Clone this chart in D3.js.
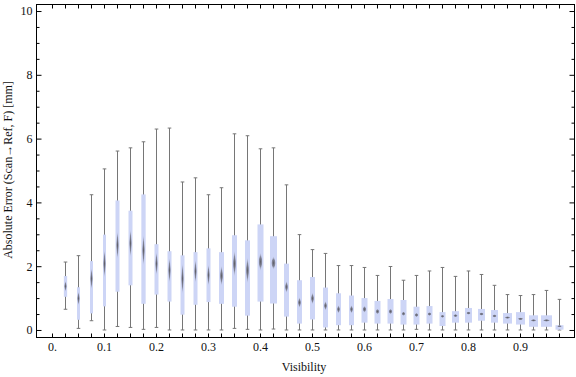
<!DOCTYPE html>
<html>
<head>
<meta charset="utf-8">
<script src="https://cdn.jsdelivr.net/npm/d3@7"></script>
<style>
    body { margin: 0; background: #fff; }
    svg text { font-family: "Liberation Serif", "DejaVu Serif", serif; fill: #111; }
</style>
</head>
<body>
<div id="chart"></div>
<script>
// ===========================
// Box-whisker chart
// Absolute error vs visibility
// ===========================

const visibility = [0.025, 0.05, 0.075, 0.1, 0.125, 0.15, 0.175, 0.2, 0.225, 0.25,
    0.275, 0.3, 0.325, 0.35, 0.375, 0.4, 0.425, 0.45, 0.475, 0.5,
    0.525, 0.55, 0.575, 0.6, 0.625, 0.65, 0.675, 0.7, 0.725, 0.75,
    0.775, 0.8, 0.825, 0.85, 0.875, 0.9, 0.925, 0.95, 0.975];

const whiskerLow = [0.65, 0.05, 0.29, 0.0, 0.11, 0.08, 0.02, 0.08, 0.0, 0.0,
    0.0, 0.0, 0.0, 0.05, 0.02, 0.0, 0.03, 0.0, 0.0, 0.0,
    0.0, 0.0, 0.0, 0.0, 0.0, 0.0, 0.0, 0.02, 0.0, 0.0,
    0.0, 0.0, 0.0, 0.0, 0.0, 0.0, 0.0, 0.0, 0.0];

const q1 = [1.04, 0.32, 0.52, 0.74, 1.2, 1.4, 0.82, 1.11, 0.89, 0.48,
    0.79, 0.875, 0.82, 0.73, 0.45, 0.89, 0.83, 0.42, 0.2, 0.33,
    0.08, 0.15, 0.15, 0.23, 0.2, 0.2, 0.17, 0.17, 0.2, 0.125,
    0.23, 0.23, 0.29, 0.23, 0.2, 0.17, 0.1, 0.1, 0.01];

const median = [1.37, 0.99, 1.61, 2.08, 2.66, 2.72, 2.5, 2.08, 1.87, 1.61,
    1.84, 1.72, 1.7, 2.08, 1.87, 2.14, 2.1, 1.35, 0.86, 0.99,
    0.76, 0.65, 0.65, 0.65, 0.58, 0.58, 0.51, 0.47, 0.5, 0.43,
    0.45, 0.53, 0.5, 0.44, 0.39, 0.35, 0.3, 0.3, 0.12];

const q3 = [1.69, 1.34, 2.16, 2.99, 4.06, 3.74, 4.25, 2.69, 2.47, 2.34,
    2.44, 2.56, 2.44, 2.97, 2.81, 3.31, 2.94, 2.08, 1.56, 1.66,
    1.33, 1.15, 1.08, 1.0, 0.91, 0.97, 0.94, 0.73, 0.75, 0.56,
    0.59, 0.69, 0.66, 0.625, 0.53, 0.56, 0.46, 0.46, 0.15];

const whiskerHigh = [2.13, 2.33, 4.24, 5.05, 5.61, 5.71, 5.9, 6.3, 6.33, 4.64,
    4.77, 4.24, 4.46, 6.15, 6.09, 5.68, 5.71, 4.55, 2.99, 2.52,
    2.4, 2.02, 2.02, 1.96, 1.71, 1.99, 1.56, 1.71, 1.85, 1.96,
    1.68, 1.85, 1.74, 1.4, 1.11, 1.08, 1.11, 1.24, 0.96];

// half-height of the median notch (mm)
const medianCI = [0.18, 0.23, 0.36, 0.47, 0.47, 0.47, 0.52, 0.39, 0.42, 0.52,
    0.39, 0.36, 0.34, 0.44, 0.44, 0.31, 0.23, 0.2, 0.18, 0.2,
    0.16, 0.14, 0.14, 0.12, 0.1, 0.1, 0.08, 0.08, 0.07, 0.06,
    0.06, 0.06, 0.06, 0.06, 0.05, 0.05, 0.05, 0.05, 0.04];

// relative sample weight (drives box width)
const boxWeight = [0.33, 0.3, 0.3, 0.3, 0.4, 0.4, 0.43, 0.4, 0.4, 0.4,
    0.4, 0.4, 0.5, 0.5, 0.5, 0.6, 0.7, 0.5, 0.5, 0.5,
    0.5, 0.5, 0.5, 0.6, 0.6, 0.6, 0.6, 0.6, 0.6, 0.6,
    0.7, 0.7, 0.7, 0.7, 0.9, 0.9, 0.9, 1.1, 0.8];

const xTickValues = [0, 0.025, 0.05, 0.075, 0.1, 0.125, 0.15, 0.175, 0.2, 0.225,
    0.25, 0.275, 0.3, 0.325, 0.35, 0.375, 0.4, 0.425, 0.45, 0.475,
    0.5, 0.525, 0.55, 0.575, 0.6, 0.625, 0.65, 0.675, 0.7, 0.725,
    0.75, 0.775, 0.8, 0.825, 0.85, 0.875, 0.9, 0.925, 0.95, 0.975];
const xLabelValues = [0, 0.1, 0.2, 0.3, 0.4, 0.5, 0.6, 0.7, 0.8, 0.9];
const yMajorTicks = [0, 2, 4, 6, 8, 10];
const yMinorTicks = [0.5, 1, 1.5, 2.5, 3, 3.5, 4.5, 5, 5.5, 6.5, 7, 7.5, 8.5, 9, 9.5];

const width = 576, height = 377;
const margin = { top: 4, right: 1, bottom: 40, left: 36 };

const data = visibility.map((v, i) => ({
    v,
    lo: whiskerLow[i], q1: q1[i], med: median[i], q3: q3[i], hi: whiskerHigh[i],
    ci: medianCI[i], w: boxWeight[i]
}));

const svg = d3.select('#chart').append('svg')
    .attr('width', width)
    .attr('height', height);

const x = d3.scaleLinear()
    .domain([-0.0308, 1.0058])
    .range([margin.left, width - margin.right]);

const y = d3.scaleLinear()
    .domain([-0.22, 10.22])
    .range([height - margin.bottom, margin.top]);

const widthScale = d3.scaleLinear().domain([0, 1]).range([0, 10]);

const defs = svg.append('defs');
const grad = defs.append('radialGradient').attr('id', 'notch');
grad.append('stop').attr('offset', '0%').attr('stop-color', '#5f5f68').attr('stop-opacity', 1);
grad.append('stop').attr('offset', '50%').attr('stop-color', '#7d7f90').attr('stop-opacity', 0.9);
grad.append('stop').attr('offset', '100%').attr('stop-color', '#cdd5f6').attr('stop-opacity', 0);

const boxColor = '#cdd5f6';
const whiskerColor = '#767676';

const g = svg.append('g');

// whiskers
g.selectAll('.whisker')
    .data(data)
    .join('line')
    .attr('class', 'whisker')
    .attr('x1', d => Math.round(x(d.v)) + 0.5)
    .attr('x2', d => Math.round(x(d.v)) + 0.5)
    .attr('y1', d => y(d.lo))
    .attr('y2', d => y(d.hi))
    .attr('stroke', whiskerColor)
    .attr('stroke-width', 1);

['lo', 'hi'].forEach(key => {
    g.selectAll('.cap-' + key)
        .data(data)
        .join('line')
        .attr('class', 'cap-' + key)
        .attr('x1', d => Math.round(x(d.v)) + 0.5 - 1.8)
        .attr('x2', d => Math.round(x(d.v)) + 0.5 + 1.8)
        .attr('y1', d => y(d[key]))
        .attr('y2', d => y(d[key]))
        .attr('stroke', whiskerColor)
        .attr('stroke-width', 1);
});

// boxes
g.selectAll('.box')
    .data(data)
    .join('rect')
    .attr('class', 'box')
    .attr('x', d => Math.round(x(d.v)) + 0.5 - widthScale(d.w) / 2)
    .attr('width', d => widthScale(d.w))
    .attr('y', d => y(d.q3))
    .attr('height', d => y(d.q1) - y(d.q3))
    .attr('fill', boxColor);

// median notch markers
g.selectAll('.notch')
    .data(data)
    .join('polygon')
    .attr('class', 'notch')
    .attr('points', d => {
        const cx = Math.round(x(d.v)) + 0.5;
        const hw = Math.max(1.6, widthScale(d.w) * 0.38);
        const top = y(d.med + d.ci), bot = y(d.med - d.ci), mid = y(d.med);
        return [[cx, top], [cx + hw, mid], [cx, bot], [cx - hw, mid]].join(' ');
    })
    .attr('fill', 'url(#notch)');

// frame
const frame = svg.append('g');
frame.append('rect')
    .attr('x', margin.left + 0.5)
    .attr('y', margin.top + 0.5)
    .attr('width', width - margin.right - margin.left - 1)
    .attr('height', height - margin.bottom - margin.top)
    .attr('fill', 'none')
    .attr('stroke', '#000')
    .attr('stroke-width', 1);

// left axis
svg.append('g')
    .attr('transform', `translate(${margin.left + 0.5},0)`)
    .call(d3.axisLeft(y).tickValues(yMajorTicks).tickSize(-5).tickPadding(4).tickFormat(d3.format('d')));
svg.append('g')
    .attr('transform', `translate(${margin.left + 0.5},0)`)
    .call(d3.axisLeft(y).tickValues(yMinorTicks).tickSize(-3).tickFormat(''));

// right axis
svg.append('g')
    .attr('transform', `translate(${width - margin.right - 0.5},0)`)
    .call(d3.axisRight(y).tickValues(yMajorTicks).tickSize(-5).tickFormat(''));
svg.append('g')
    .attr('transform', `translate(${width - margin.right - 0.5},0)`)
    .call(d3.axisRight(y).tickValues(yMinorTicks).tickSize(-3).tickFormat(''));

// bottom axis
const fmtX = d => d === 0 ? '0.' : (xLabelValues.some(v => Math.abs(v - d) < 1e-9) ? d3.format('.1f')(d) : '');
svg.append('g')
    .attr('transform', `translate(0,${height - margin.bottom + 0.5})`)
    .call(d3.axisBottom(x).tickValues(xTickValues).tickSize(-4).tickPadding(5).tickFormat(fmtX));

// top axis
svg.append('g')
    .attr('transform', `translate(0,${margin.top + 0.5})`)
    .call(d3.axisTop(x).tickValues(xTickValues).tickSize(-4).tickFormat(''));

svg.selectAll('.domain').remove();
svg.selectAll('.tick line').attr('stroke', '#000');
svg.selectAll('.tick text')
    .style('font-size', '12px')
    .style('font-family', '"Liberation Serif", serif')
    .attr('fill', '#111');

// axis titles
svg.append('text')
    .attr('x', 304)
    .attr('y', 371)
    .attr('text-anchor', 'middle')
    .style('font-size', '12px')
    .text('Visibility');

svg.append('text')
    .attr('transform', 'translate(12,170) rotate(-90)')
    .attr('text-anchor', 'middle')
    .style('font-size', '12px')
    .text('Absolute Error (Scan\u2192Ref, F) [mm]');
</script>
</body>
</html>
